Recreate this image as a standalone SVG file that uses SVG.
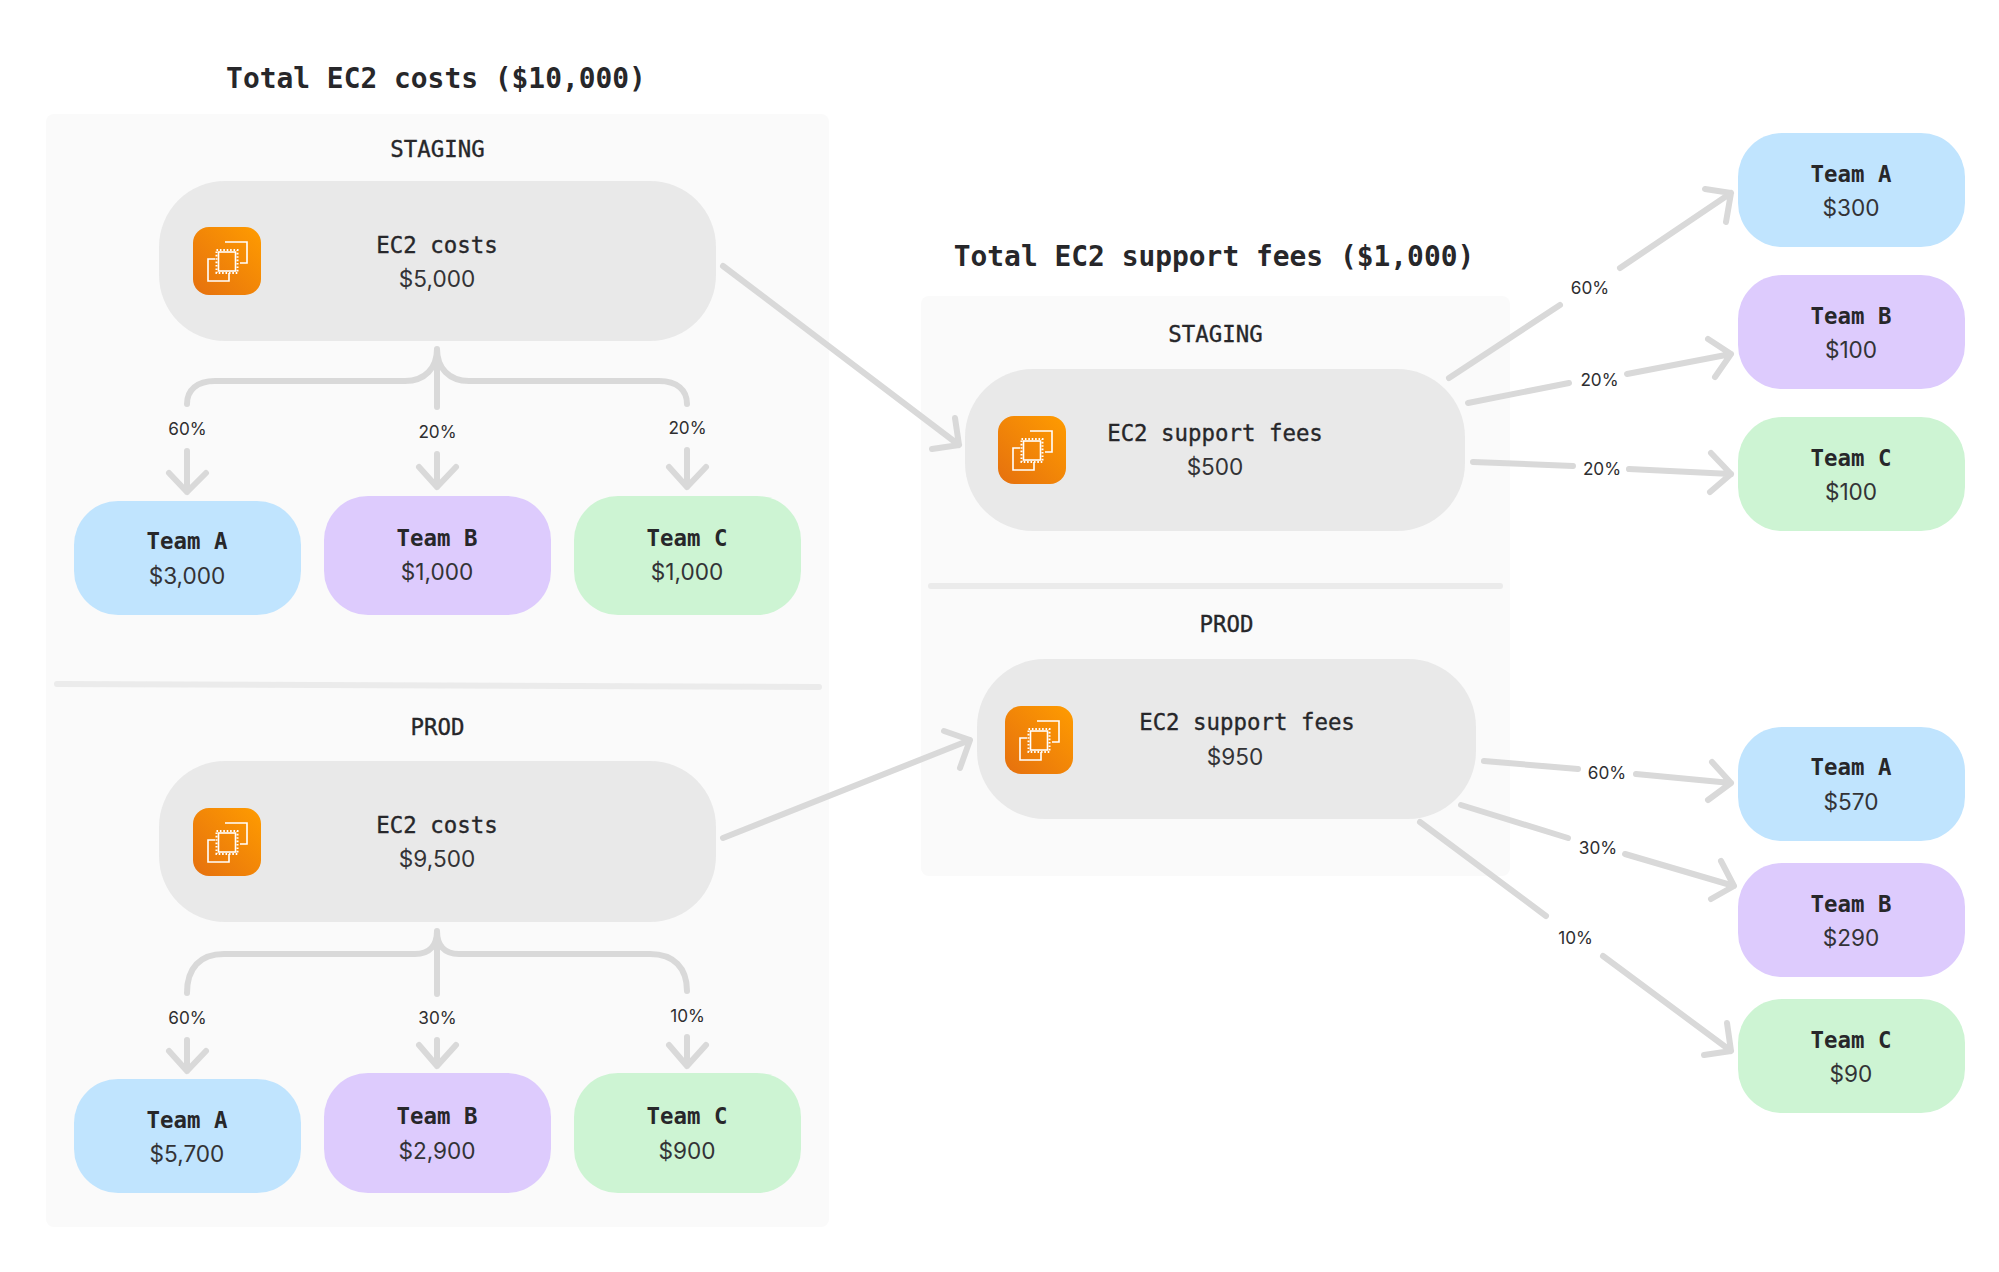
<svg xmlns="http://www.w3.org/2000/svg" xmlns:xlink="http://www.w3.org/1999/xlink" width="1999" height="1272" viewBox="0 0 1999 1272">
<style>
.t{font-family:"DejaVu Sans Mono","Liberation Mono",monospace;fill:#27272a;text-anchor:middle}
.title{font-size:27.9px;font-weight:700}
.m{font-size:22.4px;stroke:#27272a;stroke-width:.35px}
.b{font-size:22.4px;font-weight:700}
.v{font-family:Inter,"Noto Sans",sans-serif;font-size:22.6px;fill:#333336;text-anchor:middle}
.p{font-family:Inter,"Noto Sans",sans-serif;font-size:17.2px;fill:#2e2e30;text-anchor:middle}
.panel{fill:#fafafa}
.div{stroke:#ebebeb;stroke-width:6;stroke-linecap:round;fill:none}
.ec2{fill:#e9e9e9}
.a{fill:#c0e4fe}.bb{fill:#ddcbfd}.c{fill:#cdf4d3}
.k{fill:none;stroke:#d9d9d9;stroke-width:6;stroke-linecap:round;stroke-linejoin:round}
.g{fill:none;stroke:#fff;stroke-width:1.6}
</style>
<defs>
<linearGradient id="og" x1="0" y1="1" x2="1" y2="0"><stop offset="0" stop-color="#e5700f"/><stop offset="1" stop-color="#ff9c00"/></linearGradient>
<g id="icon">
<rect width="68" height="68" rx="16" fill="url(#og)"/>
<path class="g" d="M32 15H54V36H47M36 46V54H15V32H22"/>
<rect class="g" x="25.500" y="25" width="17" height="19"/>
<rect x="23.500" y="23" width="21" height="23" fill="none" stroke="#fff" stroke-width="2" stroke-dasharray="1.600 1.800"/>
</g>
</defs>
<rect width="1999" height="1272" fill="#fff"/>
<g id="panel-left"><rect class="panel" x="46" y="114" width="783" height="1113" rx="8"/><path class="div" d="M57 684L819 687"/></g>
<g id="panel-right"><rect class="panel" x="921" y="296" width="589" height="580" rx="8"/><path class="div" d="M931 586H1500"/></g>
<text class="t title" x="436" y="88">Total EC2 costs ($10,000)</text>
<text class="t title" x="1214" y="266">Total EC2 support fees ($1,000)</text>
<text class="t m" x="437.500" y="157">STAGING</text>
<text class="t m" x="437.500" y="735">PROD</text>
<text class="t m" x="1215.500" y="342">STAGING</text>
<text class="t m" x="1226.500" y="632">PROD</text>
<g id="connectors">
<path class="k" d="M437 349V407M437 349C437 368 425 381 405 381H215C197 381 187 390 187 404M437 349C437 368 449 381 469 381H659C677 381 687 390 687 404"/>
<path class="k" d="M187 451V492M169 473L187 492L206 473M437 454V487M419 467L437 487L456 467M687 450V487M669 467L687 487L706 467"/>
<path class="k" d="M437 931V994M437 931C437 945 430 954 415 954H224C200 954 187 968 187 993M437 931C437 945 444 954 459 954H650C674 954 687 968 687 991"/>
<path class="k" d="M187 1040V1071M169 1051L187 1071L206 1051M437 1040V1066M419 1045L437 1066L456 1045M687 1037V1066M669 1045L687 1066L706 1045"/>
<path class="k" d="M723 266L959 445M955 418L959 445L932 449"/>
<path class="k" d="M723 838L970 740M944 731L970 740L960 768"/>
<path class="k" d="M1449 378L1560 305M1620 268L1731 193M1705 189L1731 193L1726 222"/>
<path class="k" d="M1468 403L1569 383M1627 374L1731 354M1708 339L1731 354L1715 377"/>
<path class="k" d="M1473 462L1573 466M1629 469L1731 474M1711 453L1731 474L1710 492"/>
<path class="k" d="M1484 761L1578 769M1636 774L1731 783M1712 762L1731 783L1708 800"/>
<path class="k" d="M1461 805L1568 838M1625 854L1734 886M1721 861L1734 886L1711 899"/>
<path class="k" d="M1420 822L1546 916M1603 956L1731 1051M1727 1023L1731 1051L1704 1055"/>
<text class="p" x="187.500" y="435">60%</text><text class="p" x="437.500" y="438">20%</text><text class="p" x="687.500" y="434">20%</text>
<text class="p" x="187.500" y="1024">60%</text><text class="p" x="437.500" y="1024">30%</text><text class="p" x="687.500" y="1022">10%</text>
<text class="p" x="1590" y="294">60%</text><text class="p" x="1599.500" y="386">20%</text><text class="p" x="1602" y="475">20%</text>
<text class="p" x="1607" y="779">60%</text><text class="p" x="1598" y="854">30%</text><text class="p" x="1575.500" y="944">10%</text>
</g>
<g id="ec2-staging"><rect class="ec2" x="159" y="181" width="557" height="160" rx="66"/><use xlink:href="#icon" href="#icon" x="193" y="227"/><text class="t m" x="437" y="253">EC2 costs</text><text class="v" x="437" y="287">$5,000</text></g>
<g id="ec2-prod"><rect class="ec2" x="159" y="761" width="557" height="161" rx="66"/><use xlink:href="#icon" href="#icon" x="193" y="808"/><text class="t m" x="437" y="833">EC2 costs</text><text class="v" x="437" y="867">$9,500</text></g>
<g id="support-staging"><rect class="ec2" x="965" y="369" width="500" height="162" rx="68"/><use xlink:href="#icon" href="#icon" x="998" y="416"/><text class="t m" x="1215" y="441">EC2 support fees</text><text class="v" x="1215" y="475">$500</text></g>
<g id="support-prod"><rect class="ec2" x="977" y="659" width="499" height="160" rx="68"/><use xlink:href="#icon" href="#icon" x="1005" y="706"/><text class="t m" x="1247" y="730">EC2 support fees</text><text class="v" x="1235" y="765">$950</text></g>
<g id="l-s-a"><rect class="a" x="74" y="501" width="227" height="114" rx="44"/><text class="t b" x="187" y="549">Team A</text><text class="v" x="187" y="584">$3,000</text></g>
<g id="l-s-b"><rect class="bb" x="324" y="496" width="227" height="119" rx="44"/><text class="t b" x="437" y="546">Team B</text><text class="v" x="437" y="580">$1,000</text></g>
<g id="l-s-c"><rect class="c" x="574" y="496" width="227" height="119" rx="44"/><text class="t b" x="687" y="546">Team C</text><text class="v" x="687" y="580">$1,000</text></g>
<g id="l-p-a"><rect class="a" x="74" y="1079" width="227" height="114" rx="44"/><text class="t b" x="187" y="1128">Team A</text><text class="v" x="187" y="1162">$5,700</text></g>
<g id="l-p-b"><rect class="bb" x="324" y="1073" width="227" height="120" rx="44"/><text class="t b" x="437" y="1124">Team B</text><text class="v" x="437" y="1159">$2,900</text></g>
<g id="l-p-c"><rect class="c" x="574" y="1073" width="227" height="120" rx="44"/><text class="t b" x="687" y="1124">Team C</text><text class="v" x="687" y="1159">$900</text></g>
<g id="r-s-a"><rect class="a" x="1738" y="133" width="227" height="114" rx="44"/><text class="t b" x="1851" y="182">Team A</text><text class="v" x="1851" y="216">$300</text></g>
<g id="r-s-b"><rect class="bb" x="1738" y="275" width="227" height="114" rx="44"/><text class="t b" x="1851" y="324">Team B</text><text class="v" x="1851" y="358">$100</text></g>
<g id="r-s-c"><rect class="c" x="1738" y="417" width="227" height="114" rx="44"/><text class="t b" x="1851" y="466">Team C</text><text class="v" x="1851" y="500">$100</text></g>
<g id="r-p-a"><rect class="a" x="1738" y="727" width="227" height="114" rx="44"/><text class="t b" x="1851" y="775">Team A</text><text class="v" x="1851" y="810">$570</text></g>
<g id="r-p-b"><rect class="bb" x="1738" y="863" width="227" height="114" rx="44"/><text class="t b" x="1851" y="912">Team B</text><text class="v" x="1851" y="946">$290</text></g>
<g id="r-p-c"><rect class="c" x="1738" y="999" width="227" height="114" rx="44"/><text class="t b" x="1851" y="1048">Team C</text><text class="v" x="1851" y="1082">$90</text></g>
</svg>
